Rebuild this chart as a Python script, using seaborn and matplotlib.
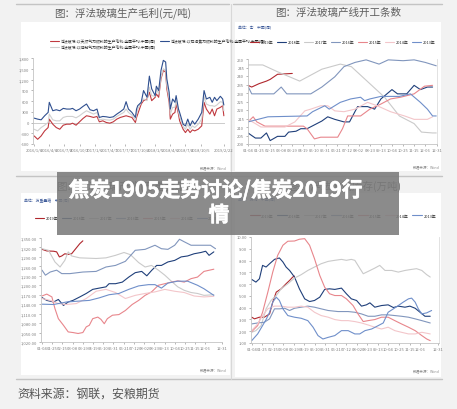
import pandas as pd
import seaborn as sns
import matplotlib.pyplot as plt
import matplotlib.patheffects as pe
from matplotlib.patches import Rectangle
from matplotlib.lines import Line2D

# ---------------- 图1: 浮法玻璃生产毛利(元/吨), 周数据 (周序号, 自2016/1/1起)
margin_weeks = [1, 4, 7, 10, 13, 14, 17, 20, 23, 26, 29, 32, 34, 37, 40, 43, 46, 49, 52, 55,
                57, 60, 63, 66, 69, 72, 75, 78, 80, 82, 85, 88, 89, 90, 93, 95, 98, 100, 102, 105,
                106, 108, 110, 112, 114, 115, 117, 118, 120, 122, 123, 125, 126, 129, 131, 133, 135, 137, 139, 142,
                145, 147, 149, 152, 154, 156, 158, 161, 163, 164]
margin_gas = [-375, -469, -375, -234, -141, 94, -47, -141, -188, -75, -47, -47, -19, -75, 19, 113, 188, 169, 141, 169,
              19, 47, 0, -19, 19, 94, 141, 169, 188, 169, 141, 0, 141, 234, 516, 609, 656, 844, 609, 703,
              797, 703, 1219, 1453, 1406, 938, 563, 94, 234, 281, 516, 234, 47, -188, -281, -188, -281, -206, -234, -188,
              -94, 563, 375, 234, 375, 188, 375, 422, 469, 188]
margin_coke = [122, 94, 75, 188, 281, 563, 328, 356, 328, 394, 375, 375, 394, 328, 375, 450, 516, 356, 328, 375,
               141, 169, 159, 141, 159, 234, 300, 375, 581, 375, 281, 141, 375, 469, 563, 891, 703, 1294, 938, 750,
               1013, 891, 1453, 1734, 1688, 1219, 844, 375, 656, 563, 750, 375, 281, -47, -94, 94, -94, 47, -47, 94,
               281, 891, 656, 703, 563, 703, 609, 731, 656, 488]
margin_coal = [-188, -234, -141, -75, 0, 234, 75, 47, 47, 141, 169, 169, 169, 131, 188, 263, 328, 281, 234, 281,
               75, 94, 75, 66, 94, 169, 225, 281, 375, 281, 206, 75, 234, 375, 563, 656, 609, 984, 750, 731,
               938, 797, 1266, 1500, 1453, 1031, 656, 234, 422, 422, 609, 300, 169, -113, -188, -47, -188, -94, -141, -47,
               94, 731, 516, 469, 469, 450, 488, 581, 563, 328]
margin_names = ['浮法玻璃:以天然气为燃料的生产毛利:全国平均:中国(周)',
                '浮法玻璃:以煤制气为燃料的生产毛利:全国平均:中国(周)',
                '浮法玻璃:以石油焦为燃料的生产毛利:全国平均:中国(周)']
margin_colors = ['#c0393f', '#d0d0d0', '#2f4f8f']
margin_tick_weeks = [1, 14, 27, 40, 53, 66, 79, 92, 105, 118, 131, 144, 164]
margin_tick_labels = ['2016/1/8', '2016/4/8', '2016/7/8', '2016/10/7', '2017/1/6', '2017/4/7', '2017/7/7',
                      '2017/10/6', '2018/1/5', '2018/4/6', '2018/7/6', '2018/10/5', '2019/2/22']

# ---------------- 共用: 年份与周刻度
years = ['2019年', '2018年', '2017年', '2016年', '2015年', '2014年', '2013年']
year_colors = ['#b0272d', '#1f3f7a', '#cacaca', '#8196bd', '#e8868c', '#f3c6ca', '#6f8fca']
week_tick_labels = ['01-04', '01-25', '02-15', '03-08', '03-29', '04-19', '05-10', '05-31', '06-21',
                    '07-12', '08-02', '08-23', '09-13', '10-04', '10-25', '11-15', '12-06', '12-31']

# ---------------- 图2: 浮法玻璃产线开工条数
lines_weeks = {
    '2019年': [1, 2, 4, 6, 7, 9, 13],
    '2018年': [1, 3, 4.5, 6, 7, 9, 11, 12, 14, 15.3, 17, 21, 22.6, 24.5, 27, 28.5, 30.7, 33.4, 35.3, 37,
              40, 41.5, 44, 46, 47.7, 49.6, 51],
    '2017年': [1, 5, 9, 15, 21, 26, 29, 32, 35, 38, 40, 42, 46, 48, 51, 52],
    '2016年': [1, 2, 8, 10, 11.5, 18, 21, 24.5, 27, 30, 33, 36.5, 39, 43, 46, 49, 52],
    '2015年': [1, 2.4, 3.4, 5.6, 12.6, 16, 17, 19, 20.7, 25.3, 26.6, 28, 31.5, 34, 37, 39.6, 42.3, 46, 48.8, 51],
    '2014年': [1, 3, 4.5, 11, 13.7, 16.4, 18, 20.7, 22.6, 24.5, 27, 30, 33.4, 36, 39.6, 43.4, 46, 49.6, 51],
    '2013年': [1, 6.4, 17, 18.5, 21.8, 23, 26, 28.8, 31.5, 32.6, 34, 37, 42, 45, 47.7, 49.6, 51, 52],
}
lines_values = {
    '2019年': [234.5, 233.5, 235.5, 237, 238, 241, 241.5],
    '2018年': [206.5, 203.5, 203.5, 206.5, 202, 204.5, 204.5, 207, 207.5, 209, 209, 213.5, 216, 214.5, 213, 213,
              222, 222, 220.5, 226.5, 232, 229.5, 229.5, 234.5, 232, 233.5, 233.5],
    '2017年': [246.5, 246.5, 242.5, 237, 244, 247, 245.5, 239.5, 233.5, 227.5, 222, 216.5, 212, 207, 206.5, 206.5],
    '2016年': [234, 229.5, 229.5, 233.5, 229.5, 229.5, 233.5, 239.5, 245.5, 248, 249.5, 247, 249.5, 249, 249.5,
              248, 246],
    '2015年': [213, 216, 213, 210.5, 210.5, 210.5, 209, 203, 204, 204, 209, 216.5, 216.5, 220.5, 223.5, 226.5,
              227.5, 229.5, 234, 234.5],
    '2014年': [214.5, 212, 210, 210, 213, 219.5, 220.5, 222.5, 222.5, 219.5, 219, 220.5, 224.5, 222.5, 219, 216.5,
              214.5, 214.5, 216],
    '2013年': [213, 216, 216.5, 219, 222.5, 220.5, 224.5, 226.5, 227.5, 225.5, 226.5, 228, 228, 229.5, 224.5,
              220.5, 216.5, 216.5],
}

# ---------------- 图3: 浮法玻璃产能(万重量箱)
cap_weeks = {
    '2019年': [1, 2.4, 4.4, 5.3, 6.1, 6.8, 7.7, 8.7, 9.7, 10.9, 12.1, 13],
    '2018年': [1, 2.4, 4.4, 5.8, 7.3, 8.7, 10.1, 12.1, 14, 15.9, 17.8, 19.8, 20.7, 22.6, 24.6, 26.5, 28.4, 30.3,
              31.8, 33.2, 34.7, 36.1, 38, 40, 41.9, 43.8, 45.7, 47.7, 49.1, 50.1, 51.5],
    '2017年': [1, 2.9, 4.8, 6.3, 7.7, 8.7, 9.7, 12.1, 16.9, 19.8, 22.6, 25.1, 27, 29.4, 31.3, 33.2, 35.2, 37.1,
              39, 40.9, 42.8, 44.8, 46.7, 48.6, 51.5],
    '2016年': [1, 2, 3.4, 5.3, 6.8, 9.2, 13, 16.9, 19.8, 22.6, 25.5, 28.4, 31.3, 34.2, 36.1, 38, 40, 41.4, 42.8,
              44.8, 47.7, 50.5, 52],
    '2015年': [1, 2.4, 3.9, 4.8, 5.8, 7.3, 8.7, 10.1, 11.6, 13, 14, 14.9, 15.9, 17.4, 18.3, 19.3, 20.2, 21.7,
              23.6, 25.5, 27.5, 29.4, 31.3, 33.2, 35.2, 37.1, 39, 40.9, 42.8, 44.8, 46.7, 48.6, 51.5],
    '2014年': [1, 3.4, 5.8, 8.2, 11.1, 14, 16.9, 19.8, 22.6, 25.5, 28.4, 31.3, 34.2, 37.1, 40, 42.8, 45.7, 48.6, 51.5],
    '2013年': [1, 4.4, 8.2, 12.1, 14.9, 17.8, 20.7, 23.6, 26.5, 29.4, 32.3, 34.2, 36.1, 38, 40.9, 43.8, 46.7, 48.6,
              51.5],
}
cap_values = {
    '2019年': [1314, 1309, 1308, 1306, 1290, 1293, 1300, 1298, 1300, 1316, 1332, 1341],
    '2018年': [1161, 1152, 1147, 1155, 1136, 1147, 1152, 1163, 1174, 1187, 1191, 1195, 1205, 1205, 1210, 1226,
              1240, 1244, 1230, 1247, 1263, 1263, 1274, 1279, 1290, 1293, 1300, 1304, 1308, 1295, 1306],
    '2017年': [1316, 1311, 1274, 1258, 1279, 1306, 1293, 1287, 1285, 1287, 1295, 1304, 1297, 1272, 1258, 1263,
              1248, 1232, 1213, 1195, 1184, 1177, 1174, 1168, 1170],
    '2016年': [1248, 1232, 1242, 1248, 1237, 1237, 1242, 1244, 1258, 1263, 1276, 1311, 1314, 1327, 1316, 1314,
              1327, 1346, 1338, 1327, 1327, 1327, 1316],
    '2015年': [1166, 1172, 1163, 1126, 1094, 1073, 1052, 1050, 1047, 1050, 1068, 1073, 1094, 1099, 1092, 1078,
              1094, 1105, 1107, 1120, 1139, 1152, 1168, 1179, 1200, 1205, 1210, 1214, 1210, 1221, 1226, 1244, 1251],
    '2014年': [1158, 1152, 1142, 1139, 1142, 1158, 1181, 1187, 1177, 1158, 1168, 1174, 1179, 1187, 1181, 1177,
              1166, 1163, 1165],
    '2013年': [1140, 1139, 1147, 1150, 1152, 1160, 1170, 1174, 1187, 1198, 1202, 1202, 1191, 1207, 1213, 1213,
              1200, 1189, 1168],
}

# ---------------- 图4: 浮法玻璃库存(万吨)
stock_weeks = {
    '2019年': [1, 1.8, 3.2, 4.6, 6.1, 7, 8, 9.4, 10.8, 11.8, 12.7, 13.2],
    '2018年': [1, 2.2, 3.2, 4.1, 5.1, 6.1, 7.5, 8.9, 9.9, 10.8, 11.8, 13.2, 14.6, 16.1, 17.5, 18.9, 20.4, 21.8,
              23.2, 24.7, 26.6, 28, 29.4, 30.9, 32.3, 33.7, 34.7, 36.1, 38, 39.9, 41.4, 42.8, 44.7, 46.1, 47.6,
              49, 50.4, 51.9],
    '2017年': [1, 2.2, 3.7, 5.1, 6.5, 8, 9.4, 11.3, 13.2, 15.1, 17, 18.9, 20.8, 22.8, 24.7, 26.6, 28, 29.4, 30.4,
              31.3, 32.8, 34.2, 36.1, 37.5, 39, 40.9, 42.8, 44.7, 46.6, 48, 49.5, 50.9, 51.9],
    '2016年': [1, 2.7, 4.6, 6.1, 7.5, 8.9, 10.4, 11.8, 13.2, 15.1, 17, 18.9, 20.8, 22.8, 25.6, 28.5, 30.4, 32.3,
              34.2, 36.1, 38, 39.9, 41.8, 43.7, 45.7, 47.6, 49.5, 51.9],
    '2015年': [1, 2.7, 4.1, 5.6, 7, 8.4, 9.9, 11.3, 13.2, 14.6, 16.1, 17.5, 18.9, 20.4, 21.8, 23.2, 24.7, 26.6,
              28, 29.9, 31.3, 32.8, 34.2, 36.1, 38, 39.9, 41.8, 43.7, 45.7, 47.6, 49.5, 50.9, 51.9],
    '2014年': [1, 2.7, 4.1, 5.6, 7.5, 9.4, 11.3, 13.2, 15.1, 17, 18.9, 20.8, 22.8, 24.7, 26.6, 28.5, 30.4, 32.3,
              34.2, 36.1, 38, 39.9, 41.8, 43.7, 45.7, 47.6, 49.5, 51.9],
    '2013年': [1, 2.7, 4.1, 5.1, 6.1, 7, 8, 8.9, 9.9, 11.3, 13.2, 15.1, 17, 18.5, 19.9, 21.3, 22.8, 24.7, 26.6,
              28.5, 30.4, 31.8, 33.3, 35.2, 37.1, 38.5, 39.9, 41.4, 42.8, 44.2, 45.7, 46.6, 47.6, 48.5, 49.5,
              50.9, 52.3],
}
stock_values = {
    '2019年': [3.19, 3.05, 3.19, 3.19, 3.47, 4.47, 5.32, 5.60, 6.03, 6.31, 6.60, 6.68],
    '2018年': [6.40, 6.17, 6.45, 7.59, 7.45, 7.73, 8.10, 8.22, 7.88, 7.45, 7.16, 6.60, 5.60, 4.75, 4.52, 4.61,
              4.89, 5.55, 5.60, 5.55, 5.66, 5.18, 4.75, 4.61, 4.13, 4.24, 4.41, 4.04, 4.18, 4.24, 4.01, 4.13,
              4.04, 4.13, 3.95, 3.61, 3.27, 3.27],
    '2017年': [1.91, 2.05, 2.48, 3.90, 4.61, 5.03, 5.60, 6.03, 6.51, 6.80, 7.16, 7.45, 7.73, 7.93, 8.02, 8.10,
              8.02, 8.10, 8.02, 7.59, 6.88, 7.08, 7.36, 7.59, 7.16, 7.16, 7.02, 7.16, 7.25, 7.31, 7.16, 6.80, 6.60],
    '2016年': [2.62, 2.70, 2.76, 3.05, 3.90, 3.90, 3.95, 3.76, 3.95, 4.04, 4.13, 4.04, 3.90, 3.76, 3.67, 3.67,
              3.61, 3.47, 3.27, 3.27, 3.39, 3.39, 3.33, 3.27, 3.19, 3.05, 2.90, 2.70],
    '2015年': [1.97, 2.48, 3.61, 5.32, 7.02, 8.44, 9.30, 9.64, 9.66, 9.81, 9.86, 9.30, 8.16, 6.74, 5.74, 5.18,
              5.03, 5.03, 4.75, 4.18, 3.47, 2.82, 2.90, 2.99, 3.19, 3.19, 2.90, 2.62, 2.34, 2.05, 1.63, 1.34, 1.20],
    '2014年': [2.05, 2.62, 3.33, 3.90, 4.13, 4.13, 4.04, 4.04, 4.13, 4.04, 3.61, 3.33, 3.19, 2.99, 2.90, 2.90,
              2.82, 2.70, 2.53, 2.34, 2.19, 2.34, 2.05, 1.91, 1.77, 1.77, 1.91, 1.77],
    '2013年': [1.20, 1.77, 2.48, 2.99, 3.61, 4.47, 4.89, 4.61, 3.90, 3.33, 3.19, 3.10, 2.90, 2.34, 1.63, 1.34,
              1.48, 1.63, 2.05, 2.05, 1.77, 1.77, 2.05, 2.19, 2.48, 2.70, 3.61, 3.90, 4.18, 4.47, 4.75, 4.81,
              4.47, 3.90, 3.47, 3.56, 3.76],
}

W, H = 457, 410
BG = '#f2f2f2'
GRID = '#c4c4c4'
TICK = '#808080'

sns.set_theme(style='white')
plt.rcParams['font.family'] = ['Noto Sans CJK SC', 'DejaVu Sans']
plt.rcParams['axes.unicode_minus'] = False

fig = plt.figure(figsize=(W / 100, H / 100), dpi=100)
fig.patch.set_facecolor(BG)


def fbox(x0, y0, x1, y1):
    return [x0 / W, 1 - y1 / H, (x1 - x0) / W, (y1 - y0) / H]


def hline(y, x0, x1, color=GRID, lw=1.0):
    fig.add_artist(Line2D([x0 / W, x1 / W], [1 - y / H, 1 - y / H], transform=fig.transFigure,
                          color=color, lw=lw, zorder=-1))


def vline(x, y0, y1, color=GRID, lw=0.8):
    fig.add_artist(Line2D([x / W, x / W], [1 - y0 / H, 1 - y1 / H], transform=fig.transFigure,
                          color=color, lw=lw, zorder=-1))


def panel(x0, y0, x1, y1):
    b = fbox(x0, y0, x1, y1)
    fig.add_artist(Rectangle((b[0], b[1]), b[2], b[3], transform=fig.transFigure,
                             facecolor='white', edgecolor='none', zorder=-2))


def ftext(x, y, s, **kw):
    fig.text(x / W, 1 - y / H, s, **kw)


def to_long(weeks, values, names):
    frames = [pd.DataFrame({'week': weeks[n], 'value': values[n], 'series': n}) for n in names]
    return pd.concat(frames, ignore_index=True)


def style_axes(ax, right=True):
    ax.set_facecolor('white')
    for side in ['top', 'bottom', 'right', 'left']:
        ax.spines[side].set_visible(False)
    ax.spines['left'].set_visible(True)
    ax.spines['left'].set_color(GRID)
    ax.spines['left'].set_linewidth(0.6)
    ax.spines['bottom'].set_visible(True)
    ax.spines['bottom'].set_color(GRID)
    ax.spines['bottom'].set_linewidth(0.6)
    if right:
        ax.spines['right'].set_visible(True)
        ax.spines['right'].set_color('#dddddd')
        ax.spines['right'].set_linewidth(0.6)
    ax.tick_params(axis='both', labelsize=3, colors=TICK, length=1.5, width=0.4, pad=1.2,
                   left=True, bottom=True)
    ax.set_xlabel('')
    ax.set_ylabel('')


# 背景框与分隔线
panel(21, 23, 230, 172)
panel(235, 23, 441, 172)
panel(21, 194, 230, 376)
panel(235, 194, 441, 378)
hline(5, 16, 229)
hline(5, 233, 442)
hline(177, 16, 442)
hline(380, 16, 442)
vline(231, 5, 380, color='#d8d8d8')

title_kw = dict(ha='center', va='center', fontsize=7.6, color='#5f5f5f')
ftext(123, 13, '图：浮法玻璃生产毛利(元/吨)', **title_kw)
ftext(338, 13, '图：浮法玻璃产线开工条数', **title_kw)
ftext(123, 186, '图：浮法玻璃产能(万重量箱)', **title_kw)
ftext(345, 186, '图：浮法玻璃库存(万吨)', **title_kw)

src_kw = dict(ha='right', va='center', fontsize=2.6, color='#8a8a8a')
ftext(227, 168, '数据来源：Wind', **src_kw)
ftext(440, 167, '数据来源：Wind', **src_kw)
ftext(227, 370, '数据来源：Wind', **src_kw)
ftext(440, 371, '数据来源：Wind', **src_kw)

unit_kw = dict(ha='left', va='center', fontsize=2.8, color='#3d5a99')
ftext(238, 28, '单位：条    中国(周)', **unit_kw)
ftext(24, 201, '单位：万重量箱    中国(周)', **unit_kw)
ftext(238, 200, '单位：万吨    中国(周)', **unit_kw)

ftext(17, 394, '资料来源：钢联，安粮期货', ha='left', va='center', fontsize=8.6, color='#555555')

legend_kw = dict(frameon=False, fontsize=2.8, title=None, handlelength=2.4,
                 columnspacing=0.9, handletextpad=0.4)

# ---- 图1
ax1 = fig.add_axes(fbox(33, 59, 225, 145))
margin_df = pd.concat([
    pd.DataFrame({'week': margin_weeks, 'value': margin_gas, 'series': margin_names[0]}),
    pd.DataFrame({'week': margin_weeks, 'value': margin_coal, 'series': margin_names[1]}),
    pd.DataFrame({'week': margin_weeks, 'value': margin_coke, 'series': margin_names[2]}),
], ignore_index=True)
sns.lineplot(data=margin_df, x='week', y='value', hue='series', hue_order=margin_names,
             palette=margin_colors, linewidth=0.8, sort=False, estimator=None, ax=ax1)
ax1.axhline(0, color=GRID, lw=0.6, zorder=0)
ax1.set_xlim(0, 165)
ax1.set_ylim(-600, 1800)
ax1.set_yticks(range(-600, 1801, 300))
ax1.set_yticklabels([f'{v:,}' for v in range(-600, 1801, 300)])
ax1.set_xticks(margin_tick_weeks)
ax1.set_xticklabels(margin_tick_labels)
style_axes(ax1, right=False)
ax1.spines['bottom'].set_visible(False)
sns.move_legend(ax1, 'upper left', bbox_to_anchor=(0.07, 1.27), ncol=2, **legend_kw)

# ---- 图2
ax2 = fig.add_axes(fbox(248, 60, 437, 145))
sns.lineplot(data=to_long(lines_weeks, lines_values, years), x='week', y='value', hue='series',
             hue_order=years, palette=year_colors, linewidth=0.8, sort=False, estimator=None, ax=ax2)
ax2.set_xlim(1, 52.2)
ax2.set_ylim(200, 250)
ax2.set_yticks(range(200, 251, 5))
ax2.set_xticks(list(range(1, 50, 3)) + [52.2])
ax2.set_xticklabels(week_tick_labels)
style_axes(ax2)
sns.move_legend(ax2, 'center', bbox_to_anchor=(0.5, 1.2), ncol=7, **legend_kw)

# ---- 图3
ax3 = fig.add_axes(fbox(41, 239, 222, 343))
sns.lineplot(data=to_long(cap_weeks, cap_values, years), x='week', y='value', hue='series',
             hue_order=years, palette=year_colors, linewidth=0.8, sort=False, estimator=None, ax=ax3)
ax3.set_xlim(0.7, 53.9)
ax3.set_ylim(1020, 1350)
ax3.set_yticks(range(1020, 1351, 30))
ax3.set_yticklabels([f'{v:,.2f}' for v in range(1020, 1351, 30)])
ax3.set_xticks(list(range(1, 50, 3)) + [53.9])
ax3.set_xticklabels(week_tick_labels)
style_axes(ax3, right=False)
sns.move_legend(ax3, 'center', bbox_to_anchor=(0.48, 1.19), ncol=7, **legend_kw)

# ---- 图4
ax4 = fig.add_axes(fbox(251, 238, 439, 344))
sns.lineplot(data=to_long(stock_weeks, stock_values, years), x='week', y='value', hue='series',
             hue_order=years, palette=year_colors, linewidth=0.8, sort=False, estimator=None, ax=ax4)
ax4.set_xlim(0.8, 54.4)
ax4.set_ylim(1, 10)
ax4.set_yticks(range(1, 11))
ax4.set_yticklabels([f'{v:.2f}' for v in range(1, 11)])
ax4.set_xticks(list(range(1, 50, 3)) + [54])
ax4.set_xticklabels(week_tick_labels)
style_axes(ax4)
sns.move_legend(ax4, 'center', bbox_to_anchor=(0.49, 1.2), ncol=7, **legend_kw)

# ---- 标题遮罩
ob = fbox(57, 173, 399, 236)
fig.add_artist(Rectangle((ob[0], ob[1]), ob[2], ob[3], transform=fig.transFigure,
                         facecolor='#7b7b7b', edgecolor='none', alpha=0.88, zorder=10))
head_kw = dict(ha='center', va='center', fontsize=15, fontweight='bold', color='white', zorder=11,
               path_effects=[pe.withStroke(linewidth=0.35, foreground='white')])
ftext(216, 191, '焦炭1905走势讨论/焦炭2019行', **head_kw)
ftext(219, 216, '情', **head_kw)

fig.savefig('out.png', dpi=100, facecolor=fig.get_facecolor())
